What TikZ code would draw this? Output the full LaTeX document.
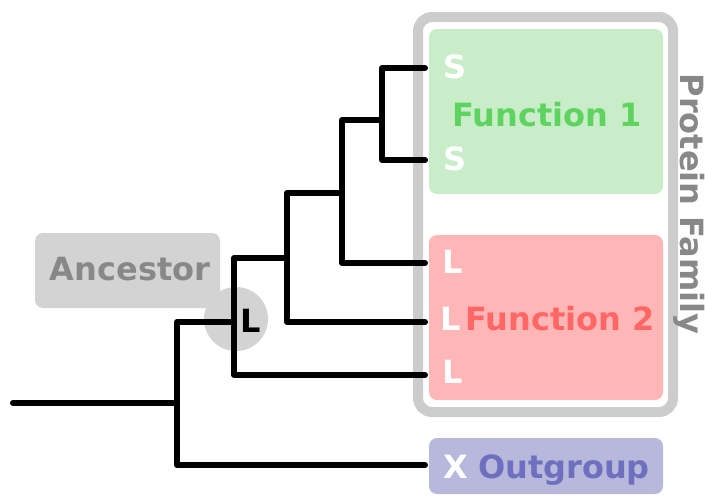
\documentclass[tikz,border=0pt]{standalone}
\usepackage{fontspec}
\setmainfont{DejaVu Sans}
\definecolor{famgray}{HTML}{CCCCCC}
\definecolor{labgray}{HTML}{888888}
\definecolor{ancfill}{HTML}{D3D3D3}
\definecolor{fonefill}{HTML}{C9EDC9}
\definecolor{fonetext}{HTML}{5FD35F}
\definecolor{ftwofill}{HTML}{FFB6B6}
\definecolor{ftwotext}{HTML}{FF6666}
\definecolor{ogfill}{HTML}{B8B8DC}
\definecolor{ogtext}{HTML}{6F6FBF}
\tikzset{
  branch/.style={line width=3pt, line cap=round, line join=round},
  funcbox/.style={rounded corners=4pt, minimum width=117pt, inner sep=0pt},
  bigtext/.style={font=\bfseries\fontsize{16}{19}\selectfont, inner sep=0pt},
  leaflbl/.style={bigtext, anchor=base, text=white},
}
\begin{document}
\begin{tikzpicture}[x=0.5pt, y=-0.5pt]
    \useasboundingbox (0,0) rectangle (705,495);
    % Boxes
    \node[draw=famgray, line width=5pt, rounded corners=7pt, minimum width=127.5pt, minimum height=197.5pt, inner sep=0pt] (family) at (545.5,214.5) {};
    \node[funcbox, fill=fonefill, minimum height=82.5pt] (fonebox) at (546,111.5) {};
    \node[funcbox, fill=ftwofill, minimum height=82.5pt] (ftwobox) at (546,317.5) {};
    \node[funcbox, fill=ogfill, minimum height=28pt] (ogbox) at (546,466) {};
    \node[fill=ancfill, rounded corners=4pt, minimum width=92.5pt, minimum height=37.5pt, inner sep=0pt] (ancbox) at (127.5,270.5) {};
    \node[circle, fill=ancfill, minimum size=32pt, inner sep=0pt] (ancdot) at (236,319) {};
    % Tree
    \coordinate (root) at (13,403);
    \coordinate (n0) at (177,403); \coordinate (n1) at (234,322); \coordinate (n2) at (287,258);
    \coordinate (n3) at (342,193); \coordinate (n4) at (382,120);
    \coordinate (tS1) at (425,68); \coordinate (tS2) at (425,160);
    \coordinate (tL1) at (425,263); \coordinate (tL2) at (425,322); \coordinate (tL3) at (425,375);
    \coordinate (tX) at (425,465);
    \draw[branch] (tS1) -| (n4) |- (tS2);
    \draw[branch] (n4) -| (n3) |- (tL1);
    \draw[branch] (n3) -| (n2) |- (tL2);
    \draw[branch] (n2) -| (n1) |- (tL3);
    \draw[branch] (n1) -| (n0) |- (tX);
    \draw[branch] (root) -- (n0);
    % Labels
    \node[leaflbl] (s1) at (455,78) {S}; \node[leaflbl] (s2) at (455,170) {S};
    \node[leaflbl] (l1) at (453,273) {L}; \node[leaflbl] (l2) at (451,330) {L}; \node[leaflbl] (l3) at (453,383) {L};
    \node[leaflbl] (x) at (455.5,478) {X};
    \node[bigtext, anchor=base, text=black] (ancl) at (251,332) {L};
    \node[bigtext, anchor=base, text=fonetext] (fonelbl) at (547,126) {Function 1};
    \node[bigtext, anchor=base, text=ftwotext] (ftwolbl) at (560,330) {Function 2};
    \node[bigtext, anchor=base, text=ogtext] (oglbl) at (564,478) {Outgroup};
    \node[bigtext, anchor=base, text=labgray] (anclbl) at (130,280) {Ancestor};
    \node[bigtext, rotate=-90, text=labgray] (famlbl) at (689,204) {Protein Family};
\end{tikzpicture}
\end{document}
